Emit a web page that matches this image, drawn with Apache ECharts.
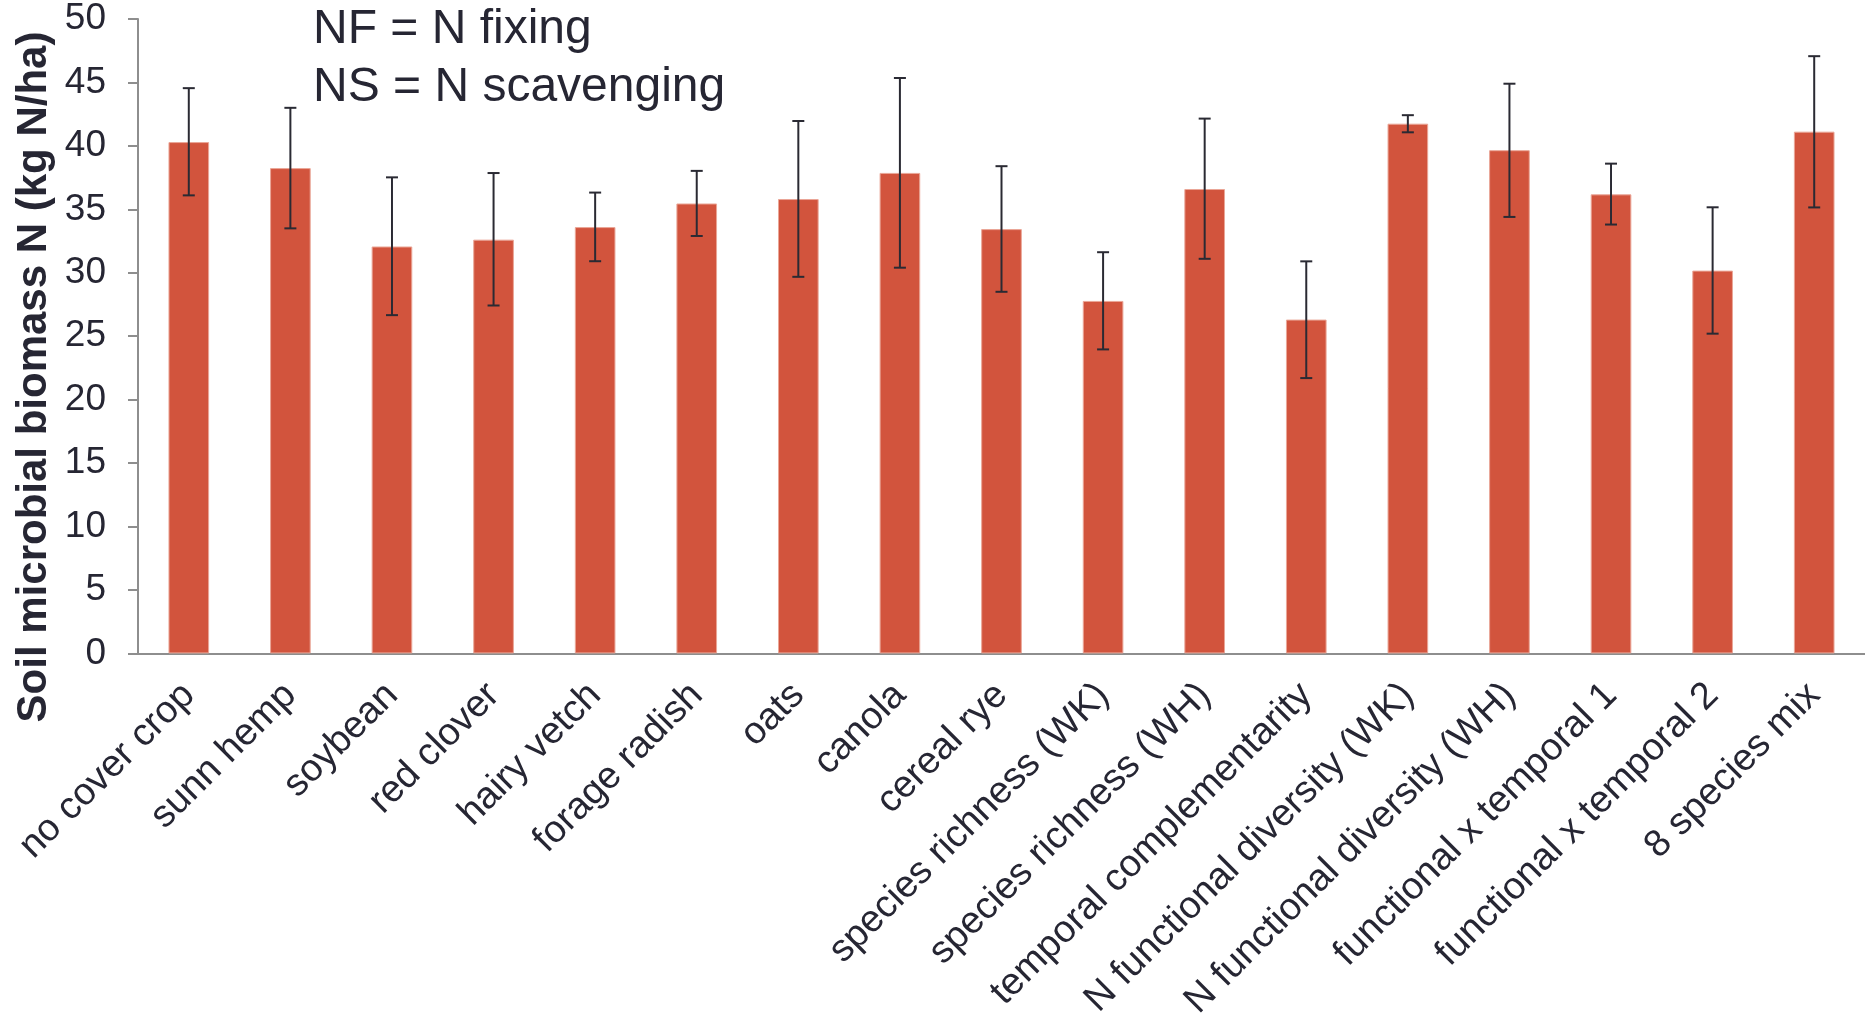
<!DOCTYPE html>
<html>
<head>
<meta charset="utf-8">
<script src="https://cdn.jsdelivr.net/npm/echarts@6/dist/echarts.min.js"></script>
<style>
html,body{margin:0;padding:0;background:#fff;}
#main{width:1865px;height:1023px;}
</style>
</head>
<body>
<div id="main"></div>
<script>
// categories and values
var categories = ['no cover crop','sunn hemp','soybean','red clover','hairy vetch','forage radish','oats','canola','cereal rye',
	'species richness (WK)','species richness (WH)','temporal complementarity','N functional diversity (WK)',
	'N functional diversity (WH)','functional x temporal 1','functional x temporal 2','8 species mix'];
var meanN = [40.3, 38.25, 32.07, 32.61, 33.6, 35.46, 35.81, 37.87, 33.44, 27.78, 36.6, 26.31, 41.75, 39.66, 36.18, 30.17, 41.12];
var errHigh = [44.55, 43.0, 37.52, 37.86, 36.32, 38.03, 41.96, 45.35, 38.4, 31.62, 42.15, 30.9, 42.42, 44.9, 38.6, 35.16, 47.07];
var errLow = [36.1, 33.5, 26.66, 27.42, 30.91, 32.9, 29.68, 30.4, 28.5, 23.96, 31.1, 21.7, 41.07, 34.4, 33.8, 25.2, 35.15];
var yTicks = [0, 50, 5]; // min, max, interval

var font = "'Liberation Sans', Arial, Helvetica, sans-serif";
var textColor = '#262633';
var axisGray = '#8e8e8e';

var errData = [];
for (var i = 0; i < categories.length; i++) {
	errData.push([i, errLow[i], errHigh[i]]);
}

var chart = echarts.init(document.getElementById('main'));
var option = {
	backgroundColor: '#fff',
	animation: false,
	grid: {left: 138, top: 19, right: 0, bottom: 366},
	xAxis: {
		type: 'category',
		data: categories,
		axisLine: {lineStyle: {color: axisGray, width: 2}},
		axisTick: {alignWithLabel: false, length: 10, lineStyle: {color: axisGray, width: 2}},
		axisLabel: {
			interval: 0,
			rotate: 45,
			margin: 36,
			color: textColor,
			fontFamily: font,
			fontSize: 38
		}
	},
	yAxis: {
		type: 'value',
		min: yTicks[0],
		max: yTicks[1],
		interval: yTicks[2],
		splitLine: {show: false},
		axisLine: {show: true, lineStyle: {color: axisGray, width: 2}},
		axisTick: {show: true, length: 10, lineStyle: {color: axisGray, width: 2}},
		axisLabel: {
			margin: 32,
			color: textColor,
			fontFamily: font,
			fontSize: 37
		}
	},
	graphic: [
		{
			type: 'text',
			x: 34, y: 377,
			rotation: Math.PI / 2,
			style: {
				text: 'Soil microbial biomass N (kg N/ha)',
				fill: textColor,
				font: 'bold 42px ' + font,
				textAlign: 'center',
				textVerticalAlign: 'middle'
			}
		},
		{
			type: 'text',
			x: 313, y: 30,
			style: {
				text: 'NF = N fixing',
				fill: textColor,
				font: '48px ' + font,
				textAlign: 'left',
				textVerticalAlign: 'middle'
			}
		},
		{
			type: 'text',
			x: 313, y: 88,
			style: {
				text: 'NS = N scavenging',
				fill: textColor,
				font: '48px ' + font,
				textAlign: 'left',
				textVerticalAlign: 'middle'
			}
		}
	],
	series: [
		{
			name: 'mean',
			type: 'bar',
			data: meanN,
			barWidth: '40%',
			itemStyle: {color: '#d2543d', borderColor: '#eaa697', borderWidth: 1}
		},
		{
			name: 'error',
			type: 'custom',
			data: errData,
			z: 10,
			renderItem: function (params, api) {
				var x = api.value(0);
				var lo = api.coord([x, api.value(1)]);
				var hi = api.coord([x, api.value(2)]);
				var cap = 6;
				var st = {stroke: '#2a2a33', lineWidth: 2};
				return {
					type: 'group',
					children: [
						{type: 'line', shape: {x1: hi[0], y1: hi[1], x2: lo[0], y2: lo[1]}, style: st},
						{type: 'line', shape: {x1: hi[0] - cap, y1: hi[1], x2: hi[0] + cap, y2: hi[1]}, style: st},
						{type: 'line', shape: {x1: lo[0] - cap, y1: lo[1], x2: lo[0] + cap, y2: lo[1]}, style: st}
					]
				};
			}
		}
	]
};
chart.setOption(option);
</script>
</body>
</html>
